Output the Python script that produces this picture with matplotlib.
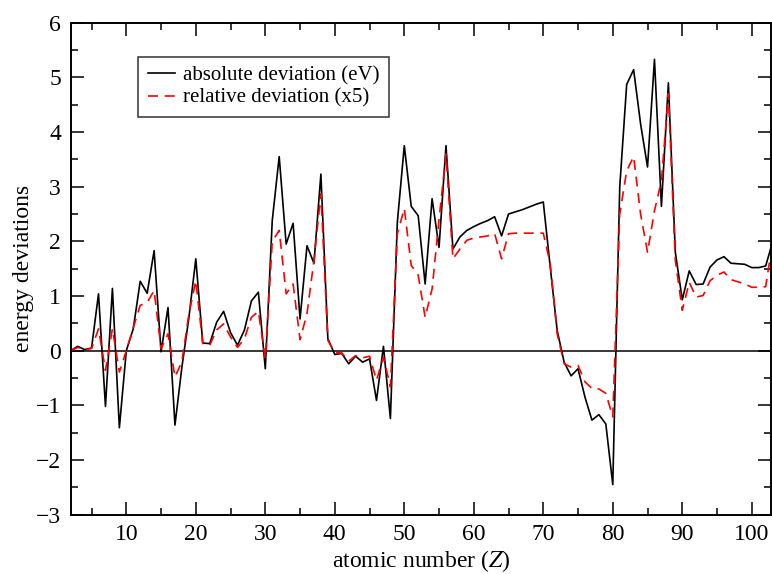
#plot.py
#energy deviations against atomic number

import matplotlib.pyplot as plt
from matplotlib.ticker import MultipleLocator

plt.rcParams['font.family'] = ['Liberation Serif', 'DejaVu Serif']
plt.rcParams['mathtext.fontset'] = 'stix'

#data
zValues = list(range(2, 104))

absDev = [0.0, 0.08, 0.02, 0.05, 1.04, -1.02, 1.14, -1.41, 0.0, 0.4,
          1.27, 1.05, 1.83, -0.02, 0.79, -1.36, -0.3, 0.6, 1.68, 0.14,
          0.13, 0.52, 0.72, 0.33, 0.1, 0.38, 0.91, 1.07, -0.33, 2.38,
          3.55, 1.95, 2.33, 0.58, 1.92, 1.6, 3.23, 0.22, -0.07, -0.05,
          -0.24, -0.1, -0.21, -0.15, -0.91, 0.08, -1.24, 2.35, 3.75, 2.64,
          2.47, 1.22, 2.78, 1.89, 3.75, 1.86, 2.08, 2.2, 2.27, 2.33,
          2.38, 2.45, 2.1, 2.5, 2.54, 2.58, 2.63, 2.68, 2.72, 1.53,
          0.37, -0.21, -0.46, -0.33, -0.85, -1.27, -1.17, -1.34, -2.45, 2.99,
          4.87, 5.14, 4.15, 3.36, 5.33, 2.64, 4.9, 1.8, 0.93, 1.46,
          1.21, 1.22, 1.53, 1.66, 1.72, 1.6, 1.59, 1.58, 1.52, 1.52,
          1.55, 1.99]

relDev = [0.0, 0.06, 0.02, 0.04, 0.4, -0.36, 0.4, -0.39, 0.0, 0.42,
          0.83, 0.88, 1.1, 0.04, 0.31, -0.48, -0.2, 0.67, 1.28, 0.13,
          0.1, 0.38, 0.49, 0.25, 0.06, 0.22, 0.61, 0.72, -0.15, 2.0,
          2.2, 1.04, 1.22, 0.2, 0.68, 1.65, 2.87, 0.19, -0.04, -0.04,
          -0.19, -0.09, -0.13, -0.1, -0.54, -0.12, -0.66, 2.14, 2.6, 1.56,
          1.38, 0.61, 1.13, 2.4, 3.6, 1.68, 1.86, 2.02, 2.06, 2.08,
          2.1, 2.14, 1.68, 2.14, 2.15, 2.15, 2.15, 2.15, 2.15, 1.59,
          0.31, -0.24, -0.3, -0.27, -0.57, -0.69, -0.7, -0.78, -1.21, 2.5,
          3.29, 3.55, 2.5, 1.8, 2.56, 3.11, 4.7, 1.65, 0.74, 1.25,
          0.98, 1.01, 1.28, 1.38, 1.44, 1.3, 1.26, 1.22, 1.16, 1.16,
          1.17, 1.99]

#figure and axes area
fig = plt.figure(figsize=(7.72, 5.74), dpi=100)
ax = fig.add_axes([0.0916, 0.1033, 0.9074, 0.8572])

#plots
ax.axhline(0, color="black", linewidth=1.1)
ax.plot(zValues, absDev, color="black", linewidth=1.2, label="absolute deviation (eV)")
ax.plot(zValues, relDev, color="red", linewidth=1.2, dashes=(6, 4), label="relative deviation (x5)")

#axes limits and ticks
ax.set_xlim(2, 102.8)
ax.set_ylim(-3, 6)
ax.xaxis.set_major_locator(MultipleLocator(10))
ax.xaxis.set_minor_locator(MultipleLocator(5))
ax.yaxis.set_major_locator(MultipleLocator(1))
ax.yaxis.set_minor_locator(MultipleLocator(0.5))
ax.tick_params(which="both", direction="in", top=True, right=True, width=1.1, labelsize=17)
ax.tick_params(which="major", length=9.5, pad=7)
ax.tick_params(which="minor", length=5)
for spine in ax.spines.values():
    spine.set_linewidth(1.4)

#labels
ax.set_xlabel("atomic number ($Z$)", fontsize=17, labelpad=2)
ax.set_ylabel("energy deviations", fontsize=17, labelpad=1)

#legend
leg = ax.legend(loc="upper left", bbox_to_anchor=(0.179, 0.901), bbox_transform=fig.transFigure,
                fontsize=15, frameon=True, fancybox=False, handlelength=1.3,
                handletextpad=0.4, borderpad=0.45, labelspacing=0.12, borderaxespad=0)
leg.get_frame().set_edgecolor("black")
leg.get_frame().set_linewidth(1.1)

#save
plt.savefig("out.png", dpi=100)
